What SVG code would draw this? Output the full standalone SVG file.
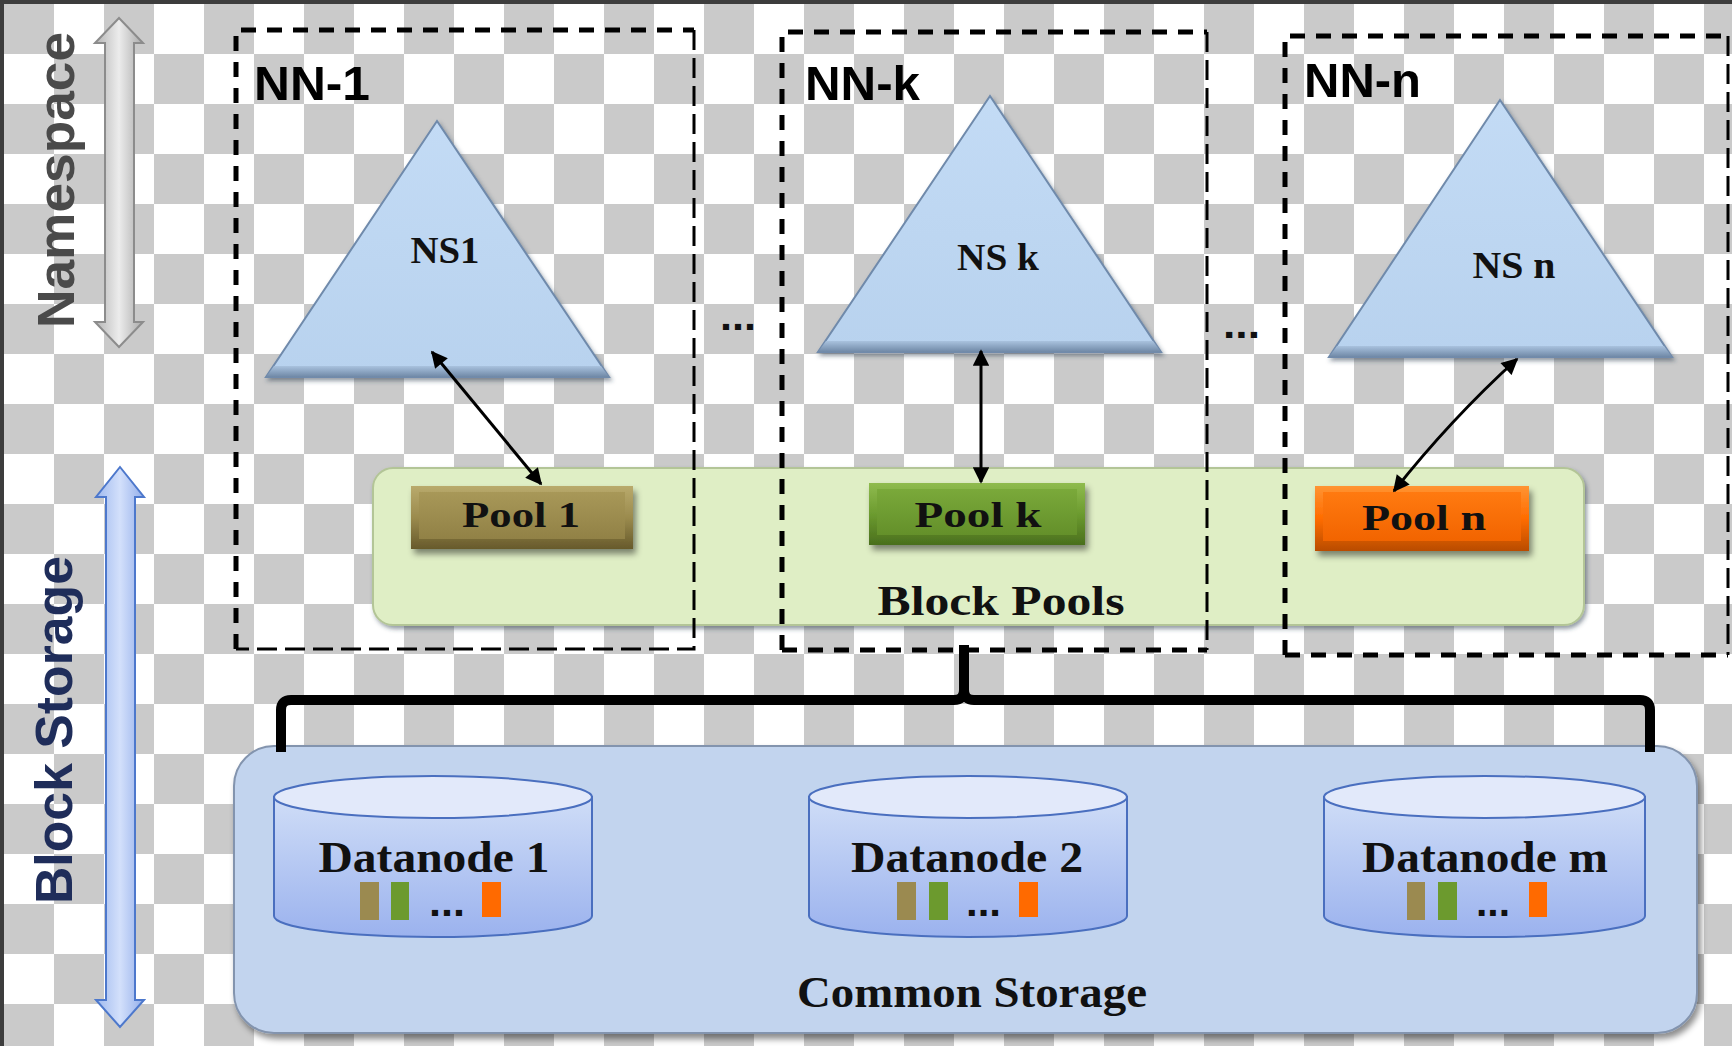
<svg xmlns="http://www.w3.org/2000/svg" width="1732" height="1046" viewBox="0 0 1732 1046">
<defs>
<style>
.dash{fill:none;stroke:#000;stroke-width:5;stroke-dasharray:15 11}
.dashthin{fill:none;stroke:#000;stroke-width:3;stroke-dasharray:20 8}
.nn{font-family:"Liberation Sans",Arial,sans-serif;font-size:48px;font-weight:bold;fill:#000}
.ser{font-family:"Liberation Serif","Times New Roman",serif;font-weight:bold;fill:#111;text-anchor:middle}
.tri{fill:url(#triG);stroke:#6f8aab;stroke-width:2}
.bev{fill:url(#bevG)}
.conn{fill:none;stroke:#000;stroke-width:3}
.cyl{stroke:#4a6fbf;stroke-width:2}
.dots{font-family:"Liberation Sans",Arial,sans-serif;font-weight:bold;font-size:40px;fill:#111}
</style>
<pattern id="chk" x="4" y="4" width="100" height="100" patternUnits="userSpaceOnUse">
<rect width="100" height="100" fill="#ffffff"/>
<rect width="50" height="50" fill="#cacaca"/>
<rect x="50" y="50" width="50" height="50" fill="#cacaca"/>
</pattern>
<linearGradient id="triG" x1="0" y1="0" x2="0" y2="1"><stop offset="0" stop-color="#c3dbf5"/><stop offset="1" stop-color="#b8d2ee"/></linearGradient>
<linearGradient id="bevG" x1="0" y1="0" x2="0" y2="1"><stop offset="0" stop-color="#a9c2de"/><stop offset="1" stop-color="#6f88a6"/></linearGradient>
<linearGradient id="nsArrow" x1="0" y1="0" x2="1" y2="0"><stop offset="0" stop-color="#b4b4b4"/><stop offset="0.5" stop-color="#ececec"/><stop offset="1" stop-color="#a9a9a9"/></linearGradient>
<linearGradient id="bsArrow" x1="0" y1="0" x2="1" y2="0"><stop offset="0" stop-color="#9fb9ee"/><stop offset="0.5" stop-color="#d3e0fb"/><stop offset="1" stop-color="#93aeea"/></linearGradient>
<linearGradient id="p1" x1="0" y1="0" x2="0" y2="1"><stop offset="0" stop-color="#b9aa6c"/><stop offset="0.5" stop-color="#9b8b4e"/><stop offset="1" stop-color="#675a2b"/></linearGradient>
<linearGradient id="p1i" x1="0" y1="0" x2="0" y2="1"><stop offset="0" stop-color="#a89858"/><stop offset="1" stop-color="#918146"/></linearGradient>
<linearGradient id="pk" x1="0" y1="0" x2="0" y2="1"><stop offset="0" stop-color="#8fbb4e"/><stop offset="0.5" stop-color="#6c9b2f"/><stop offset="1" stop-color="#4a6f1d"/></linearGradient>
<linearGradient id="pki" x1="0" y1="0" x2="0" y2="1"><stop offset="0" stop-color="#7aa93a"/><stop offset="1" stop-color="#64902a"/></linearGradient>
<linearGradient id="pn" x1="0" y1="0" x2="0" y2="1"><stop offset="0" stop-color="#ff9433"/><stop offset="0.5" stop-color="#ff6c00"/><stop offset="1" stop-color="#b94c00"/></linearGradient>
<linearGradient id="pni" x1="0" y1="0" x2="0" y2="1"><stop offset="0" stop-color="#ff7a10"/><stop offset="1" stop-color="#f26400"/></linearGradient>
<linearGradient id="cylG" x1="0" y1="0" x2="0" y2="1"><stop offset="0" stop-color="#cfddf7"/><stop offset="1" stop-color="#9bb2ee"/></linearGradient>
<filter id="sh" x="-10%" y="-10%" width="130%" height="140%"><feDropShadow dx="3" dy="5" stdDeviation="3" flood-color="#000" flood-opacity="0.45"/></filter>
<filter id="shs" x="-10%" y="-10%" width="130%" height="140%"><feDropShadow dx="2" dy="3" stdDeviation="2" flood-color="#2a3a50" flood-opacity="0.5"/></filter>
<marker id="ah" viewBox="0 0 10 10" refX="9" refY="5" markerWidth="6" markerHeight="5.5" orient="auto-start-reverse"><path d="M0,0 L10,5 L0,10 z" fill="#000"/></marker>
</defs>

<rect x="0" y="0" width="1732" height="1046" fill="url(#chk)"/>
<rect x="0" y="0" width="1732" height="4" fill="#3d3d3d"/>
<rect x="0" y="0" width="4" height="1046" fill="#3d3d3d"/>

<g id="axis-namespace">
<polygon points="119,18 143,43 134,43 134,322 143,322 119,347 95,322 105,322 105,43 95,43" fill="url(#nsArrow)" stroke="#8c8c8c" stroke-width="2"/>
<text transform="translate(74,180) rotate(-90)" text-anchor="middle" font-family="'Liberation Sans',Arial,sans-serif" font-weight="bold" font-size="52" fill="#4a4a4a" textLength="296" lengthAdjust="spacingAndGlyphs">Namespace</text>
</g>

<g id="axis-block-storage">
<polygon points="120,467 144,497 135,497 135,1000 144,1000 120,1027 96,1000 106,1000 106,497 96,497" fill="url(#bsArrow)" stroke="#4d78cc" stroke-width="2"/>
<text transform="translate(72,730) rotate(-90)" text-anchor="middle" font-family="'Liberation Sans',Arial,sans-serif" font-weight="bold" font-size="52" fill="#1f2d5a" textLength="348" lengthAdjust="spacingAndGlyphs">Block Storage</text>
</g>

<g id="block-pools">
<rect x="373" y="468" width="1211" height="157" rx="20" fill="#dfeec5" stroke="#b3c597" stroke-width="2" filter="url(#shs)"/>
<text class="ser" x="1001" y="615" font-size="42" textLength="247" lengthAdjust="spacingAndGlyphs">Block Pools</text>
</g>

<g id="common-storage">
<rect x="234" y="746" width="1463" height="287" rx="40" fill="#c2d4ee" stroke="#8394ae" stroke-width="2" filter="url(#sh)"/>
<text class="ser" x="972" y="1007" font-size="44" textLength="350" lengthAdjust="spacingAndGlyphs">Common Storage</text>
</g>

<g id="nn-1">
<path class="dash" d="M236,649 V30 H694"/>
<path class="dashthin" d="M694,30 V649 H236"/>
<text class="nn" x="254" y="100" textLength="116" lengthAdjust="spacingAndGlyphs">NN-1</text>
</g>
<g id="nn-k">
<path class="dash" d="M782,650 V32 H1207"/>
<path class="dashthin" d="M1207,32 V650"/>
<path class="dash" d="M782,650 H1207"/>
<text class="nn" x="805" y="100" textLength="115" lengthAdjust="spacingAndGlyphs">NN-k</text>
</g>
<g id="nn-n">
<path class="dash" d="M1285,655 V36 H1728"/>
<path class="dashthin" d="M1728,36 V655"/>
<path class="dash" d="M1285,655 H1728"/>
<text class="nn" x="1304" y="97" textLength="117" lengthAdjust="spacingAndGlyphs">NN-n</text>
</g>

<g id="ns1">
<polygon class="tri" points="437,121 266,377 609,377" filter="url(#shs)"/>
<polygon class="bev" points="274,366 601,366 609,377 266,377"/>
<text class="ser" x="445" y="263" font-size="38" textLength="69" lengthAdjust="spacingAndGlyphs">NS1</text>
</g>
<g id="nsk">
<polygon class="tri" points="990,96 818,352 1161,352" filter="url(#shs)"/>
<polygon class="bev" points="826,341 1153,341 1161,352 818,352"/>
<text class="ser" x="998" y="270" font-size="38" textLength="82" lengthAdjust="spacingAndGlyphs">NS k</text>
</g>
<g id="nsn">
<polygon class="tri" points="1500,100 1329,357 1672,357" filter="url(#shs)"/>
<polygon class="bev" points="1337,346 1664,346 1672,357 1329,357"/>
<text class="ser" x="1514" y="278" font-size="38" textLength="83" lengthAdjust="spacingAndGlyphs">NS n</text>
</g>

<g id="ellipsis-1"><text class="dots" x="720" y="330" textLength="36" lengthAdjust="spacingAndGlyphs">...</text></g>
<g id="ellipsis-2"><text class="dots" x="1223" y="338" textLength="37" lengthAdjust="spacingAndGlyphs">...</text></g>

<g id="pool-1">
<rect x="411" y="486" width="222" height="63" fill="url(#p1)" filter="url(#sh)"/>
<rect x="419" y="492" width="206" height="47" fill="url(#p1i)"/>
<text class="ser" x="521" y="527" font-size="36" textLength="118" lengthAdjust="spacingAndGlyphs">Pool 1</text>
</g>
<g id="pool-k">
<rect x="869" y="483" width="216" height="62" fill="url(#pk)" filter="url(#sh)"/>
<rect x="877" y="489" width="200" height="46" fill="url(#pki)"/>
<text class="ser" x="978" y="527" font-size="36" textLength="127" lengthAdjust="spacingAndGlyphs">Pool k</text>
</g>
<g id="pool-n">
<rect x="1315" y="486" width="214" height="65" fill="url(#pn)" filter="url(#sh)"/>
<rect x="1323" y="492" width="198" height="49" fill="url(#pni)"/>
<text class="ser" x="1424" y="530" font-size="36" textLength="124" lengthAdjust="spacingAndGlyphs">Pool n</text>
</g>

<g id="datanode-1">
<path class="cyl" d="M274,797 V916 A159,21 0 0 0 592,916 V797 Z" fill="url(#cylG)"/>
<ellipse class="cyl" cx="433" cy="797" rx="159" ry="21" fill="#e2e9fa"/>
<text class="ser" x="434" y="872" font-size="44" textLength="231" lengthAdjust="spacingAndGlyphs">Datanode 1</text>
<rect x="360" y="882" width="19" height="38" fill="#9b8a50"/>
<rect x="391" y="882" width="18" height="38" fill="#6c9a2e"/>
<text class="dots" x="429" y="916" textLength="36" lengthAdjust="spacingAndGlyphs">...</text>
<rect x="482" y="882" width="19" height="35" fill="#ff6a00"/>
</g>
<g id="datanode-2">
<path class="cyl" d="M809,797 V916 A159,21 0 0 0 1127,916 V797 Z" fill="url(#cylG)"/>
<ellipse class="cyl" cx="968" cy="797" rx="159" ry="21" fill="#e2e9fa"/>
<text class="ser" x="967" y="872" font-size="44" textLength="232" lengthAdjust="spacingAndGlyphs">Datanode 2</text>
<rect x="897" y="882" width="19" height="38" fill="#9b8a50"/>
<rect x="929" y="882" width="19" height="38" fill="#6c9a2e"/>
<text class="dots" x="966" y="916" textLength="35" lengthAdjust="spacingAndGlyphs">...</text>
<rect x="1019" y="882" width="19" height="35" fill="#ff6a00"/>
</g>
<g id="datanode-m">
<path class="cyl" d="M1324,797 V916 A160,21 0 0 0 1645,916 V797 Z" fill="url(#cylG)"/>
<ellipse class="cyl" cx="1484.5" cy="797" rx="160.5" ry="21" fill="#e2e9fa"/>
<text class="ser" x="1485" y="872" font-size="44" textLength="246" lengthAdjust="spacingAndGlyphs">Datanode m</text>
<rect x="1407" y="882" width="18" height="38" fill="#9b8a50"/>
<rect x="1438" y="882" width="19" height="38" fill="#6c9a2e"/>
<text class="dots" x="1476" y="916" textLength="34" lengthAdjust="spacingAndGlyphs">...</text>
<rect x="1529" y="882" width="18" height="35" fill="#ff6a00"/>
</g>

<g id="connectors">
<line class="conn" x1="432" y1="352" x2="541" y2="484" marker-start="url(#ah)" marker-end="url(#ah)"/>
<line class="conn" x1="981" y1="351" x2="981" y2="482" marker-start="url(#ah)" marker-end="url(#ah)"/>
<path class="conn" d="M1517,359 Q1450,420 1394,491" marker-start="url(#ah)" marker-end="url(#ah)"/>
<path d="M964,645 V690 Q964,700 954,700 H291 Q281,700 281,710 V752 M964,690 Q964,700 974,700 H1640 Q1650,700 1650,710 V752" fill="none" stroke="#000" stroke-width="10"/>
</g>
</svg>
